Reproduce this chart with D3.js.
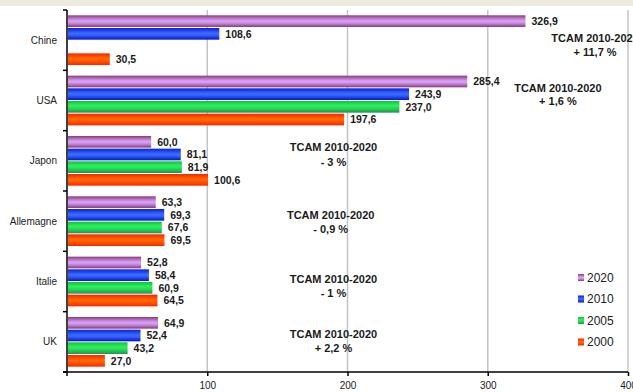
<!DOCTYPE html>
<html>
<head>
<meta charset="utf-8">
<script src="https://cdn.jsdelivr.net/npm/d3@7"></script>
<style>
  html, body { margin: 0; padding: 0; background: #fff; }
  svg { display: block; font-family: "Liberation Sans", Arial, sans-serif; }
</style>
</head>
<body>
<svg id="chart" width="633" height="392"></svg>
<script>
// Pays et années
const countries = ["Chine", "USA", "Japon", "Allemagne", "Italie", "UK"];
const years = ["2020", "2010", "2005", "2000"];

// Valeurs par année (même ordre que countries)
const v2020 = [326.9, 285.4, 60.0, 63.3, 52.8, 64.9];
const v2010 = [108.6, 243.9, 81.1, 69.3, 58.4, 52.4];
const v2005 = [null, 237.0, 81.9, 67.6, 60.9, 43.2];
const v2000 = [30.5, 197.6, 100.6, 69.5, 64.5, 27.0];

const xTicks = [100, 200, 300, 400];

// Taux de croissance annuel moyen 2010-2020
const tcamTitle = "TCAM 2010-2020";
const tcamValues = ["+ 11,7 %", "+ 1,6 %", "- 3 %", "- 0,9 %", "- 1 %", "+ 2,2 %"];

const seriesValues = { "2020": v2020, "2010": v2010, "2005": v2005, "2000": v2000 };

// Placement des annotations TCAM (x en unités de l'axe, dy par rapport au centre du groupe)
const tcamAnchor = [
  { x: 376.5, dy1: -2,  dy2: 12 },
  { x: 350,   dy1: -12, dy2: 1 },
  { x: 190,   dy1: -14, dy2: 1 },
  { x: 188,   dy1: -6,  dy2: 8 },
  { x: 190,   dy1: -2,  dy2: 12 },
  { x: 190,   dy1: -8,  dy2: 6 }
];

const svg = d3.select("#chart");
const W = 633, H = 392;
const m = { left: 67, top: 10, right: 633 - 628, bottom: 392 - 372 };

// Bandeau supérieur
svg.append("rect").attr("x", 0).attr("y", 0).attr("width", W).attr("height", 6)
  .attr("fill", "#ECE9DD");

const x = d3.scaleLinear().domain([0, 400]).range([m.left, W - m.right]);
const y0 = d3.scaleBand().domain(countries).range([m.top, H - m.bottom]).padding(0);
const y1 = d3.scaleBand().domain(years).range([0, y0.bandwidth()])
  .paddingInner(0.08).paddingOuter(0.42);

// Dégradés façon cylindre
const defs = svg.append("defs");
const gradStops = {
  "2020": [[0, "#8C3A6A"], [0.3, "#BE7FD8"], [0.5, "#D6A6F4"], [0.7, "#C184DD"], [1, "#8C3A6A"]],
  "2010": [[0, "#0A20D8"], [0.45, "#3A6CFF"], [0.6, "#3363FF"], [1, "#0A14C4"]],
  "2005": [[0, "#12C232"], [0.4, "#2EF060"], [0.65, "#22D850"], [1, "#2F8A5A"]],
  "2000": [[0, "#FF2200"], [0.45, "#FF6A00"], [0.6, "#FF6000"], [1, "#FF2400"]]
};
const legendColor = { "2020": "#B070C8", "2010": "#1F44F8", "2005": "#1CD844", "2000": "#FF4A00" };
years.forEach(yr => {
  const g = defs.append("linearGradient").attr("id", "g" + yr)
    .attr("x1", 0).attr("y1", 0).attr("x2", 0).attr("y2", 1);
  gradStops[yr].forEach(([o, c]) => g.append("stop").attr("offset", o).attr("stop-color", c));
});

// Grille verticale
svg.append("g").selectAll("line").data(xTicks).join("line")
  .attr("x1", d => x(d)).attr("x2", d => x(d))
  .attr("y1", m.top).attr("y2", H - m.bottom)
  .attr("stroke", "#C4C4C4").attr("stroke-width", 1.5);

// Barres
const fmt = v => d3.format(".1f")(v).replace(".", ",");
const groups = svg.append("g").selectAll("g").data(countries).join("g")
  .attr("transform", d => `translate(0,${y0(d)})`);

groups.each(function (c, i) {
  const g = d3.select(this);
  const rows = years.map(yr => ({ yr, v: seriesValues[yr][i] })).filter(d => d.v != null);
  g.selectAll("rect").data(rows).join("rect")
    .attr("x", x(0) + 1)
    .attr("y", d => y1(d.yr))
    .attr("width", d => x(d.v) - x(0) - 1)
    .attr("height", y1.bandwidth())
    .attr("fill", d => `url(#g${d.yr})`);
  g.selectAll("text").data(rows).join("text")
    .attr("x", d => x(d.v) + 6)
    .attr("y", d => y1(d.yr) + y1.bandwidth() / 2)
    .attr("dy", "0.36em")
    .attr("font-size", "10.5px").attr("font-weight", "bold").attr("fill", "#1a1a1a")
    .text(d => fmt(d.v));
});

// Annotations TCAM
const ann = svg.append("g").attr("font-size", "11px").attr("font-weight", "bold")
  .attr("fill", "#1a1a1a").attr("text-anchor", "middle");
countries.forEach((c, i) => {
  const cy = y0(c) + y0.bandwidth() / 2;
  const a = tcamAnchor[i];
  ann.append("text").attr("x", x(a.x)).attr("y", cy + a.dy1).attr("dy", "0.36em").text(tcamTitle);
  ann.append("text").attr("x", x(a.x)).attr("y", cy + a.dy2).attr("dy", "0.36em").text(tcamValues[i]);
});

// Axe vertical (catégories)
const yAxis = svg.append("g");
yAxis.append("line").attr("x1", x(0)).attr("x2", x(0))
  .attr("y1", m.top).attr("y2", H - m.bottom + 4)
  .attr("stroke", "#000").attr("stroke-width", 1.5);
const bounds = countries.map(c => y0(c)).concat([y0.range()[1]]);
yAxis.selectAll("line.tk").data(bounds).join("line").attr("class", "tk")
  .attr("x1", x(0) - 4).attr("x2", x(0)).attr("y1", d => d).attr("y2", d => d)
  .attr("stroke", "#000").attr("stroke-width", 1.5);
yAxis.selectAll("text").data(countries).join("text")
  .attr("x", x(0) - 10).attr("y", d => y0(d) + y0.bandwidth() / 2).attr("dy", "0.36em")
  .attr("text-anchor", "end").attr("font-size", "10px").attr("fill", "#222")
  .text(d => d);

// Axe horizontal
const xAxis = svg.append("g").attr("transform", `translate(0,${H - m.bottom})`)
  .call(d3.axisBottom(x).tickValues(xTicks).tickSize(4).tickSizeOuter(0).tickPadding(6));
xAxis.select(".domain").attr("stroke-width", 1.5).attr("d", `M${x(0) - 4},0H${x(400)}`);
xAxis.selectAll(".tick line").attr("stroke-width", 1.5);
xAxis.selectAll(".tick text").attr("font-size", "10px").attr("fill", "#222")
  .attr("font-family", "Liberation Sans, Arial, sans-serif");

// Légende
const leg = svg.append("g").attr("transform", `translate(578,${277.5})`);
years.forEach((yr, i) => {
  const r = leg.append("g").attr("transform", `translate(0,${i * 21.5})`);
  r.append("rect").attr("x", 0).attr("y", -3.5).attr("width", 6).attr("height", 7)
    .attr("fill", `url(#g${yr})`);
  r.append("text").attr("x", 9).attr("y", 0).attr("dy", "0.36em")
    .attr("font-size", "12px").attr("fill", "#222").text(yr);
});
</script>
</body>
</html>
